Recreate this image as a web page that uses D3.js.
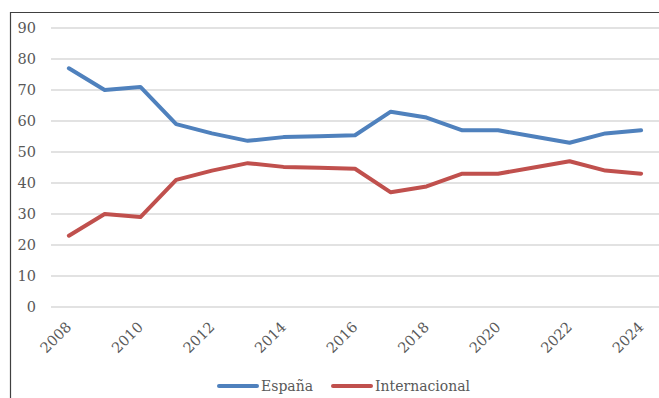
<!DOCTYPE html>
<html>
<head>
<meta charset="utf-8">
<script src="https://cdn.jsdelivr.net/npm/d3@7"></script>
<style>
  body { margin: 0; background: #fff; }
  svg text { font-family: "DejaVu Serif", serif; fill: #595959; }
</style>
</head>
<body>
<svg id="chart" width="659" height="398"></svg>
<script>
var years = [2008, 2009, 2010, 2011, 2012, 2013, 2014, 2015, 2016, 2017, 2018, 2019, 2020, 2021, 2022, 2023, 2024];
var espana = [77, 70, 71, 59, 56, 53.6, 54.8, 55.1, 55.4, 63, 61.1, 57, 57, 55, 53, 56, 57];
var internacional = [23, 30, 29, 41, 44, 46.4, 45.2, 44.9, 44.6, 37, 38.9, 43, 43, 45, 47, 44, 43];
var yTicks = [0, 10, 20, 30, 40, 50, 60, 70, 80, 90];
var xLabels = [2008, 2010, 2012, 2014, 2016, 2018, 2020, 2022, 2024];

var series = [
    { name: "España", values: espana, color: "#4F81BD" },
    { name: "Internacional", values: internacional, color: "#C0504D" }
];

var svg = d3.select("#chart");

var plot = { left: 51, right: 659, top: 28, bottom: 307 };

var x = d3.scalePoint()
    .domain(years)
    .range([plot.left, plot.right])
    .padding(0.5);

var y = d3.scaleLinear()
    .domain([0, 90])
    .range([plot.bottom, plot.top]);

// outer frame (only left and top edges are visible)
svg.append("path")
    .attr("d", "M10.5,398 V12.5 H659")
    .attr("fill", "none")
    .attr("stroke", "#404040")
    .attr("stroke-width", 1.2);

// gridlines
svg.append("g")
    .selectAll("line")
    .data(yTicks)
    .enter().append("line")
    .attr("x1", plot.left)
    .attr("x2", plot.right)
    .attr("y1", function(d) { return y(d); })
    .attr("y2", function(d) { return y(d); })
    .attr("stroke", "#d9d9d9")
    .attr("stroke-width", 1.5);

// y axis labels
var yAxis = d3.axisLeft(y)
    .tickValues(yTicks)
    .tickSize(0)
    .tickPadding(0);

var gy = svg.append("g")
    .attr("transform", "translate(36,0)")
    .call(yAxis);
gy.select(".domain").remove();
gy.selectAll("text")
    .attr("font-size", 14.5)
    .attr("font-family", "DejaVu Serif")
    .attr("fill", "#595959");

// x axis labels, rotated
var xAxis = d3.axisBottom(x)
    .tickValues(xLabels)
    .tickSize(0)
    .tickPadding(0);

var gx = svg.append("g")
    .attr("transform", "translate(0," + plot.bottom + ")")
    .call(xAxis);
gx.select(".domain").remove();
gx.selectAll("text")
    .attr("font-size", 14.5)
    .attr("font-family", "DejaVu Serif")
    .attr("fill", "#595959")
    .attr("text-anchor", "end")
    .attr("dy", 0)
    .attr("y", 0)
    .attr("transform", "translate(3,21) rotate(-45)");

// lines
var line = d3.line()
    .x(function(d, i) { return x(years[i]); })
    .y(function(d) { return y(d); });

svg.append("g")
    .selectAll("path")
    .data(series)
    .enter().append("path")
    .attr("d", function(d) { return line(d.values); })
    .attr("fill", "none")
    .attr("stroke", function(d) { return d.color; })
    .attr("stroke-width", 4)
    .attr("stroke-linejoin", "round")
    .attr("stroke-linecap", "round");

// legend
var legendPos = [219, 333];

var legend = svg.append("g")
    .selectAll("g")
    .data(series)
    .enter().append("g")
    .attr("transform", function(d, i) { return "translate(" + legendPos[i] + ",386)"; });

legend.append("line")
    .attr("x1", 0)
    .attr("x2", 38)
    .attr("stroke", function(d) { return d.color; })
    .attr("stroke-width", 4)
    .attr("stroke-linecap", "round");

legend.append("text")
    .attr("x", 42)
    .attr("dy", "0.38em")
    .attr("font-size", 14)
    .text(function(d) { return d.name; });
</script>
</body>
</html>
